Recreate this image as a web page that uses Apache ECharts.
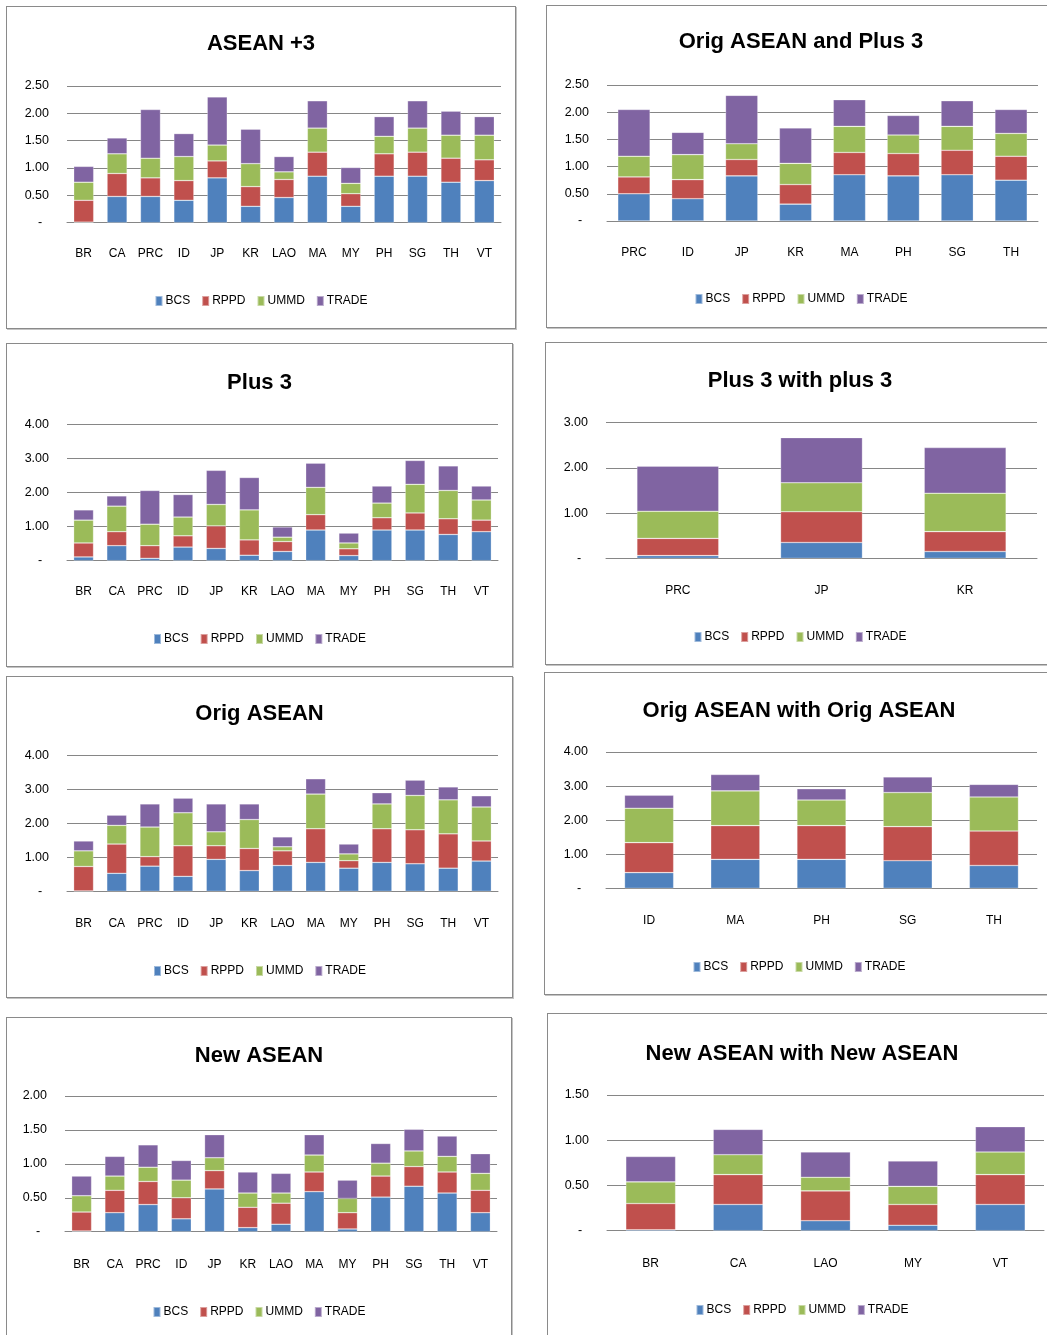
<!DOCTYPE html>
<html>
<head>
<meta charset="utf-8">
<title>Stacked index charts</title>
<script src="https://cdn.jsdelivr.net/npm/echarts@6/dist/echarts.min.js"></script>
<style>
  html, body { margin: 0; padding: 0; background: #fff; }
  body { width: 1047px; height: 1335px; position: relative; overflow: hidden; }
  .panel { position: absolute; box-sizing: border-box; border: 1px solid #8a8a8a; box-shadow: 1px 1px 0 #c4c4c4; background: #fff; }
</style>
</head>
<body>
<script>
// Series names and colours
const seriesNames = ['BCS', 'RPPD', 'UMMD', 'TRADE'];
const seriesColors = ['#4F81BD', '#C0504D', '#9BBB59', '#8064A2'];

// ASEAN +3
const aseanPlus3Cats  = ['BR','CA','PRC','ID','JP','KR','LAO','MA','MY','PH','SG','TH','VT'];
const aseanPlus3BCS   = [0.01,0.48,0.48,0.41,0.82,0.30,0.46,0.85,0.30,0.85,0.85,0.74,0.77];
const aseanPlus3RPPD  = [0.40,0.42,0.34,0.36,0.31,0.36,0.33,0.44,0.23,0.41,0.44,0.44,0.38];
const aseanPlus3UMMD  = [0.33,0.36,0.36,0.44,0.29,0.42,0.14,0.44,0.19,0.32,0.44,0.42,0.45];
const aseanPlus3TRADE = [0.29,0.29,0.89,0.42,0.88,0.63,0.28,0.50,0.29,0.36,0.50,0.44,0.34];

// Orig ASEAN and Plus 3
const origPlus3Cats  = ['PRC','ID','JP','KR','MA','PH','SG','TH'];
const origPlus3BCS   = [0.50,0.41,0.83,0.31,0.85,0.83,0.85,0.75];
const origPlus3RPPD  = [0.31,0.35,0.30,0.36,0.41,0.41,0.45,0.44];
const origPlus3UMMD  = [0.38,0.46,0.29,0.39,0.48,0.34,0.44,0.42];
const origPlus3TRADE = [0.86,0.41,0.89,0.65,0.49,0.36,0.47,0.44];

// Plus 3
const plus3Cats  = ['BR','CA','PRC','ID','JP','KR','LAO','MA','MY','PH','SG','TH','VT'];
const plus3BCS   = [0.11,0.44,0.07,0.40,0.36,0.16,0.27,0.90,0.15,0.90,0.90,0.77,0.85];
const plus3RPPD  = [0.41,0.41,0.37,0.33,0.66,0.45,0.29,0.45,0.20,0.36,0.50,0.46,0.34];
const plus3UMMD  = [0.67,0.75,0.63,0.55,0.63,0.88,0.13,0.80,0.17,0.43,0.84,0.83,0.59];
const plus3TRADE = [0.30,0.30,0.99,0.66,1.00,0.95,0.30,0.71,0.29,0.50,0.70,0.72,0.41];

// Plus 3 with plus 3
const plus3WithCats  = ['PRC','JP','KR'];
const plus3WithBCS   = [0.06,0.35,0.15];
const plus3WithRPPD  = [0.38,0.68,0.44];
const plus3WithUMMD  = [0.60,0.64,0.85];
const plus3WithTRADE = [1.00,1.00,1.01];

// Orig ASEAN
const origCats  = ['BR','CA','PRC','ID','JP','KR','LAO','MA','MY','PH','SG','TH','VT'];
const origBCS   = [0.01,0.53,0.74,0.44,0.94,0.61,0.76,0.85,0.68,0.85,0.81,0.68,0.89];
const origRPPD  = [0.72,0.86,0.28,0.90,0.40,0.65,0.43,0.99,0.22,0.99,1.00,1.01,0.59];
const origUMMD  = [0.46,0.55,0.87,0.97,0.41,0.85,0.12,1.02,0.20,0.73,1.01,1.00,1.00];
const origTRADE = [0.29,0.30,0.68,0.43,0.82,0.46,0.29,0.45,0.29,0.33,0.45,0.38,0.33];

// Orig ASEAN with Orig ASEAN
const origWithCats  = ['ID','MA','PH','SG','TH'];
const origWithBCS   = [0.46,0.85,0.85,0.81,0.67];
const origWithRPPD  = [0.88,0.99,0.99,1.00,1.01];
const origWithUMMD  = [1.01,1.02,0.75,1.00,1.00];
const origWithTRADE = [0.38,0.48,0.33,0.46,0.37];

// New ASEAN
const newCats  = ['BR','CA','PRC','ID','JP','KR','LAO','MA','MY','PH','SG','TH','VT'];
const newBCS   = [0.01,0.28,0.40,0.19,0.63,0.06,0.11,0.59,0.04,0.51,0.67,0.57,0.28];
const newRPPD  = [0.28,0.33,0.34,0.31,0.27,0.30,0.31,0.29,0.24,0.31,0.29,0.31,0.33];
const newUMMD  = [0.24,0.21,0.21,0.26,0.19,0.21,0.15,0.25,0.21,0.19,0.23,0.23,0.25];
const newTRADE = [0.29,0.29,0.33,0.29,0.34,0.31,0.29,0.30,0.27,0.29,0.32,0.30,0.29];

// New ASEAN with New ASEAN
const newWithCats  = ['BR','CA','LAO','MY','VT'];
const newWithBCS   = [0.01,0.29,0.11,0.06,0.29];
const newWithRPPD  = [0.29,0.33,0.33,0.23,0.33];
const newWithUMMD  = [0.24,0.22,0.15,0.20,0.25];
const newWithTRADE = [0.28,0.28,0.28,0.28,0.28];

// Axis settings per chart
const yMax      = [2.5, 2.5, 4, 3, 4, 4, 2, 1.5];
const yInterval = [0.5, 0.5, 1, 1, 1, 1, 0.5, 0.5];

const titles = ['ASEAN +3', 'Orig ASEAN and Plus 3', 'Plus 3', 'Plus 3 with plus 3',
                'Orig ASEAN', 'Orig ASEAN with Orig ASEAN', 'New ASEAN', 'New ASEAN with New ASEAN'];

const panelData = [
  [aseanPlus3Cats, aseanPlus3BCS, aseanPlus3RPPD, aseanPlus3UMMD, aseanPlus3TRADE],
  [origPlus3Cats, origPlus3BCS, origPlus3RPPD, origPlus3UMMD, origPlus3TRADE],
  [plus3Cats, plus3BCS, plus3RPPD, plus3UMMD, plus3TRADE],
  [plus3WithCats, plus3WithBCS, plus3WithRPPD, plus3WithUMMD, plus3WithTRADE],
  [origCats, origBCS, origRPPD, origUMMD, origTRADE],
  [origWithCats, origWithBCS, origWithRPPD, origWithUMMD, origWithTRADE],
  [newCats, newBCS, newRPPD, newUMMD, newTRADE],
  [newWithCats, newWithBCS, newWithRPPD, newWithUMMD, newWithTRADE]
];

// Page layout (page pixels): box = [left, top, width, height], plot = [x0, yTop, x1, yBottom]
const layout = [
  { box: [6, 6, 510, 323],     plot: [66, 85, 500, 221.7],     titleY: 42,   labelY: 252,  legendY: 301 },
  { box: [546, 5, 510, 323],   plot: [606, 84, 1037, 220],     titleY: 40,   labelY: 251,  legendY: 299 },
  { box: [6, 343, 507, 324],   plot: [66, 423.3, 497, 559.7],  titleY: 381,  labelY: 590,  legendY: 639 },
  { box: [545, 342, 510, 323], plot: [605, 421.7, 1036, 557.3],titleY: 379,  labelY: 589,  legendY: 637 },
  { box: [6, 676, 507, 322],   plot: [66, 754.3, 497, 890.3],  titleY: 712,  labelY: 922,  legendY: 971 },
  { box: [544, 672, 510, 323], plot: [605, 751, 1036, 887.3],  titleY: 709,  labelY: 919,  legendY: 967 },
  { box: [6, 1017, 506, 330],  plot: [64, 1095, 496, 1230.7],  titleY: 1054, labelY: 1263, legendY: 1312 },
  { box: [547, 1013, 510, 330],plot: [606, 1094, 1043, 1229.7],titleY: 1052, labelY: 1262, legendY: 1310 }
];

const FONT = '"Liberation Sans", Arial, sans-serif';
const TITLE_SIZE = 22;
const LEGEND_SIZE = 12;

function yLabel(v) {
  return v === 0 ? '-  ' : v.toFixed(2);
}

layout.forEach((L, i) => {
  const div = document.createElement('div');
  div.className = 'panel';
  div.style.left = L.box[0] + 'px';
  div.style.top = L.box[1] + 'px';
  div.style.width = L.box[2] + 'px';
  div.style.height = L.box[3] + 'px';
  document.body.appendChild(div);

  const chart = echarts.init(div, null, { renderer: 'canvas' });
  const bx = L.box[0], by = L.box[1];
  const [cats, ...vals] = panelData[i];
  const gap = cats.length <= 5 ? '43%' : '40%';

  chart.setOption({
    animation: false,
    title: {
      text: titles[i],
      left: 'center',
      top: L.titleY - by - TITLE_SIZE * 0.45,
      padding: 0,
      textStyle: { fontFamily: FONT, fontWeight: 'bold', fontSize: TITLE_SIZE, color: '#000' }
    },
    legend: {
      data: seriesNames,
      left: 'center',
      top: L.legendY - by - 7,
      padding: 0,
      icon: 'rect',
      itemWidth: 7,
      itemHeight: 10,
      itemGap: 11,
      textStyle: { fontFamily: FONT, fontSize: LEGEND_SIZE, color: '#000', padding: [0, 0, 0, -2] }
    },
    grid: {
      left: L.plot[0] - bx,
      top: L.plot[1] - by,
      width: L.plot[2] - L.plot[0],
      height: L.plot[3] - L.plot[1],
      containLabel: false
    },
    xAxis: {
      type: 'category',
      data: cats,
      axisLine: { show: true, lineStyle: { color: '#868686', width: 1 } },
      axisTick: { show: false },
      axisLabel: {
        fontFamily: FONT, fontSize: 12, color: '#000',
        margin: L.labelY - L.plot[3] - 5,
        interval: 0
      }
    },
    yAxis: {
      type: 'value',
      min: 0,
      max: yMax[i],
      interval: yInterval[i],
      axisLine: { show: false },
      axisTick: { show: false },
      splitLine: { show: true, lineStyle: { color: '#868686', width: 1 } },
      axisLabel: { fontFamily: FONT, fontSize: 12.5, color: '#000', margin: 18, formatter: yLabel }
    },
    series: seriesNames.map((name, k) => ({
      name: name,
      type: 'bar',
      stack: 'total',
      data: vals[k],
      barCategoryGap: gap,
      itemStyle: { color: seriesColors[k], borderColor: 'rgba(255,255,255,0.45)', borderWidth: 0.6 }
    }))
  });
});
</script>
</body>
</html>
